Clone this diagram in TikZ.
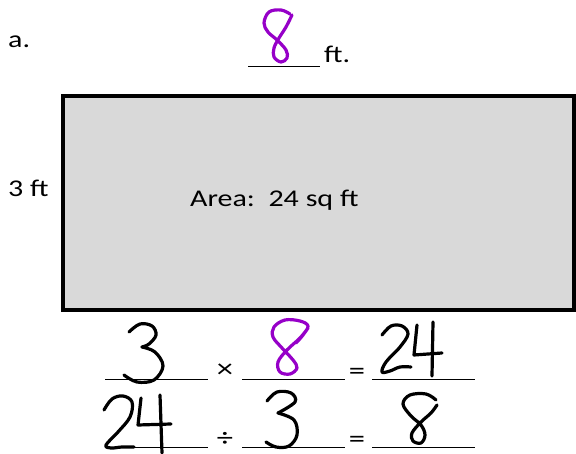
\documentclass[tikz,border=0pt]{standalone}
\usepackage{fontspec}
\setmainfont[FakeStretch=1.25]{Carlito}
\definecolor{inkpurple}{RGB}{150,0,200}
\definecolor{boxgray}{RGB}{217,217,217}
\tikzset{
  lbl/.style={inner sep=0pt, anchor=base west, font=\fontsize{24}{28}\selectfont},
  opsign/.style={inner sep=0pt, font=\fontsize{26}{30}\selectfont},
  blank/.style={line width=1pt},
  hand/.style={line width=3.2pt, line cap=round, line join=round},
}
\begin{document}
\begin{tikzpicture}[x=1pt,y=-1pt]
  \useasboundingbox (0,0) rectangle (576,454);
  % Label and top blank
  \node[lbl] (tag) at (8,48) {a.};
  \draw[blank] (248,67) -- (320,67);
  \node[lbl] (ftlen) at (324,63) {ft.};
  \draw[hand, inkpurple] plot[smooth, tension=0.6] coordinates {(290,14) (281,10) (269,12) (264,23) (268,32) (277,40) (286,50) (287,58) (281,62) (274,57) (274,48) (279,38) (286,27) (292,15)};
  % Rectangle
  \draw[line width=4.5pt, fill=boxgray] (63,96) rectangle (574,310);
  \node[lbl] (side) at (8,197) {3 ft};
  \node[lbl] (area) at (190,207) {Area:\ \ 24 sq ft};
  % First row: 3 x 8 = 24
  \draw[blank] (105,380) -- (208,380);
  \draw[blank] (242,380) -- (345,380);
  \draw[blank] (372,380) -- (475,380);
  \node[opsign] (times) at (225,371) {×};
  \node[opsign] (eqa) at (357,374) {=};
  \draw[hand] plot[smooth, tension=0.6] coordinates {(129,332) (140,324) (152,326) (156,335) (149,344) (142,347)};
  \draw[hand] plot[smooth, tension=0.6] coordinates {(142,347) (155,352) (163,366) (154,380) (137,382) (124,375)};
  \draw[hand, inkpurple] plot[smooth, tension=0.6] coordinates {(296,343) (303,335) (308,326) (300,321) (285,320) (274,327) (273,337) (282,348) (293,360) (297,368) (290,374) (280,372) (278,362) (287,350) (300,338) (308,328)};
  \draw[hand] plot[smooth, tension=0.6] coordinates {(382,335) (391,326) (402,326) (408,334) (400,347) (386,362) (382,372) (390,371) (400,367) (411,367)};
  \draw[hand] (417,325) -- (414,355) -- (442,353);
  \draw[hand] (433,322) -- (432,376);
  % Second row: 24 / 3 = 8
  \draw[blank] (105,447) -- (208,447);
  \draw[blank] (242,447) -- (345,447);
  \draw[blank] (372,447) -- (475,447);
  \node[opsign] (divide) at (225,439) {÷};
  \node[opsign] (eqb) at (357,442) {=};
  \draw[hand] plot[smooth, tension=0.6] coordinates {(104,410) (112,399) (123,396) (132,402) (130,417) (118,432) (106,445) (111,448) (122,447) (134,447)};
  \draw[hand] (141,398) -- (138,425) -- (171,424);
  \draw[hand] (160,395) -- (162,453);
  \draw[hand] plot[smooth, tension=0.6] coordinates {(267,401) (277,392) (291,393) (295,402) (278,413)};
  \draw[hand] plot[smooth, tension=0.6] coordinates {(278,413) (294,420) (297,435) (289,446) (276,447) (266,442)};
  \draw[hand] plot[smooth, tension=0.6] coordinates {(436,400) (426,394) (410,395) (403,404) (411,416) (421,425) (425,435) (421,443) (413,441) (412,433) (421,422) (431,413) (437,405)};
\end{tikzpicture}
\end{document}
